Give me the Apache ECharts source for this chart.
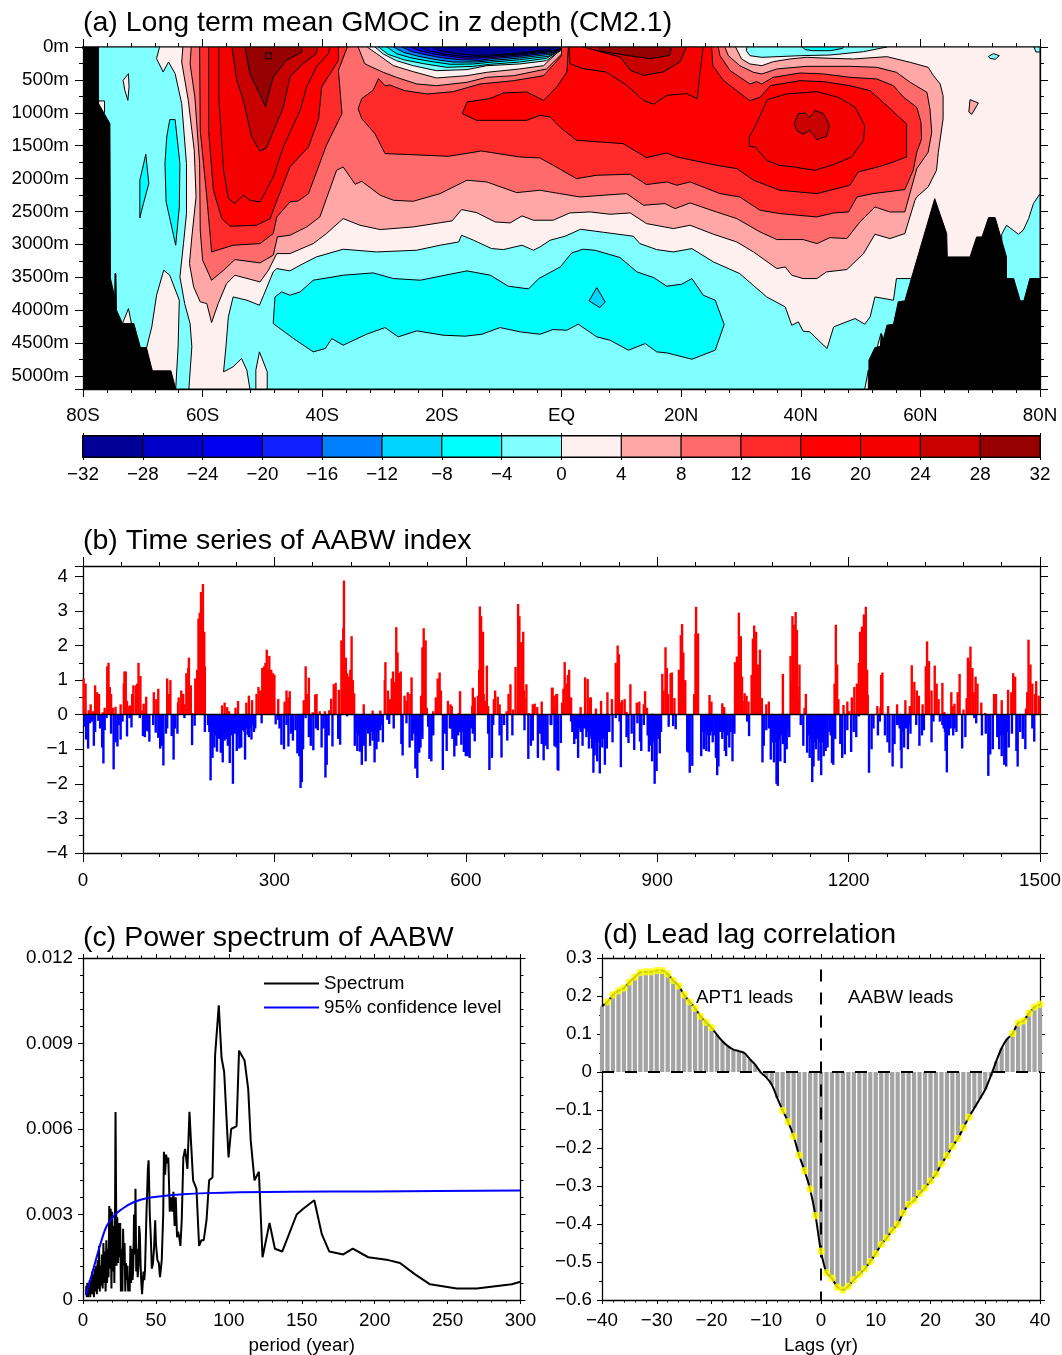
<!DOCTYPE html>
<html><head><meta charset="utf-8">
<script src="https://cdn.jsdelivr.net/npm/echarts@6/dist/echarts.min.js"></script>
<style>html,body{margin:0;padding:0;background:#fff}#c{width:1062px;height:1355px}</style></head>
<body><div id="c"></div>
<script>
// ---------- panel (a): contour outlines, [latitude, depth in m] ----------
const gt0Main=[[-67.2,0],[80,0],[80,2229],[78.9,2381],[78.1,2609],[77.2,2786],[76.4,2847],[74.4,2710],[73.6,2847],[73.6,3546],[58.3,3521],[56,3521],[55.5,3850],[52.4,3800],[51.6,4103],[50.7,4215],[49.1,4129],[45.5,4255],[44.4,4585],[41.5,4331],[40.4,4321],[39.6,4180],[38.5,4230],[37.4,3951],[34.3,3800],[29.8,3445],[25.4,3268],[21.8,3065],[18.7,3116],[15.9,3080],[13.1,2989],[12,2877],[7,2817],[3.2,2771],[0.6,2877],[-1.9,2938],[-3.6,3040],[-4.7,3090],[-6.6,3014],[-9.7,3080],[-11.7,3065],[-14.7,2938],[-16.7,2862],[-17.2,2964],[-20.3,3014],[-24.2,3090],[-30.9,3116],[-36.5,3075],[-41,3192],[-43.7,3318],[-45.4,3404],[-47.6,3369],[-48.2,3420],[-49.8,3774],[-50.5,3926],[-52.6,3850],[-54.9,3800],[-55.7,4103],[-56.1,4559],[-56.5,4939],[-54.9,4863],[-53.5,4737],[-52.6,4914],[-52.1,5200],[-62.3,5200],[-61.8,4559],[-62.1,4205],[-63,3901],[-63.8,3495],[-63.2,2989],[-62.7,2533],[-62.7,1773],[-63.5,861],[-64.6,405],[-65.7,228],[-66.6,380],[-67.7,177]];
const gt0Lobe=[[-69.4,4585],[-68.5,4255],[-67.7,3774],[-66.5,3394],[-65.5,3470],[-63.9,3850],[-64.1,4559],[-64.5,5200],[-68.3,5200]];
const gt0Sliver=[[-51.1,5200],[-51.1,4914],[-50.5,4635],[-49.2,4939],[-49.2,5200]];
const gt0Small=[[-72.4,3977],[-71.9,4205],[-73.4,4205]];
const gt0Lens=[[-72.4,405],[-72.3,608],[-72.5,811],[-73,659],[-73.3,507]];
const gt0Step=[[-77.4,820],[-76.4,820],[-76.4,1000],[-77.4,1000]];
const gt0NearRidge=[[53.4,4357],[53.5,4559],[52.8,4559]];
const gt0NearFloor=[[51.3,4914],[51.3,5200],[50.7,5200]];
const gt4=[[-63.3,0],[-63.5,228],[-62.4,811],[-61.8,1267],[-61.4,1570],[-61.1,2280],[-61.8,2888],[-62.2,3293],[-61.5,3648],[-60.4,3875],[-59.3,3901],[-58.5,4190],[-57.4,3901],[-56,3597],[-54.6,3470],[-50.4,3572],[-49,3394],[-47.6,3141],[-45.4,3141],[-41.5,2989],[-39.3,2837],[-36.5,2609],[-33.7,2710],[-30.3,2776],[-24.8,2736],[-18.3,2644],[-16.7,2472],[-14.2,2518],[-11.1,2660],[-8.6,2675],[-6.6,2568],[-4.7,2634],[-1.4,2634],[1.4,2523],[4.8,2508],[8.1,2543],[11.5,2523],[14.2,2685],[18.7,2761],[21.5,2710],[25.4,2847],[29.3,2964],[32.1,3116],[36,3369],[37.4,3344],[38.5,3470],[40.4,3521],[42.7,3521],[44.3,3420],[47.7,3384],[50.5,3141],[52.4,2847],[54.9,2913],[57.4,2837],[59.1,2330],[59.4,2280],[61.3,2128],[62.7,1874],[63,1601],[63.8,1094],[63.8,740],[63.3,562],[62.2,436],[61.3,309],[58.3,233],[54.4,147],[48.8,182],[44.9,172],[41,157],[38.2,182],[35.4,223],[33.5,284],[31.5,258],[30.1,182],[29.1,0],[0,0],[0,25],[-3,284],[-7,334],[-12.5,385],[-15.8,436],[-20.9,471],[-24.8,375],[-28.1,284],[-30.9,101],[-32.5,0]];
const gt4Patch=[[68.3,800],[69.7,851],[68.6,1023],[68.1,988]];
const gt8=[[-61.9,0],[-62.1,253],[-61.3,760],[-60.5,1773],[-60.4,2786],[-60,3242],[-58.5,3546],[-56.5,3394],[-54.6,3232],[-50.4,3283],[-48.2,3166],[-47.5,2888],[-45.4,2862],[-42.6,2736],[-40.4,2584],[-37.6,1874],[-36.5,1824],[-34.5,2087],[-33.4,2042],[-30.3,2254],[-28.1,2330],[-24.8,2346],[-20.3,2229],[-15.8,2026],[-12.5,2052],[-7.5,2214],[-3.6,2178],[-0.3,2229],[3.1,2280],[7,2254],[10.9,2229],[13.7,2406],[17.3,2381],[19,2457],[21.5,2371],[25.9,2508],[29.3,2609],[33.2,2812],[36,2928],[40.4,2928],[42.7,2989],[44.9,2898],[47.7,2913],[49.9,2660],[52.4,2432],[54.9,2508],[57.4,2508],[59.4,1849],[61.3,1601],[61.9,1297],[61.6,942],[61.1,689],[58.3,537],[56,385],[52.7,309],[48.2,294],[41,294],[36,334],[33.5,410],[32.1,385],[29.8,284],[27.9,132],[27.3,0],[0.3,0],[0.3,81],[-2.5,334],[-8,436],[-12.5,461],[-15.8,537],[-20.9,588],[-24.2,562],[-27.6,461],[-29.8,385],[-32,294],[-32.9,253],[-34,0]];
const gt12South=[[-60.5,0],[-60.4,1267],[-59.3,2280],[-58.5,3116],[-54.9,3014],[-50.4,2989],[-48.2,2837],[-47.6,2584],[-45.4,2356],[-44,2340],[-42.3,2229],[-39.3,1494],[-36.7,1013],[-37.3,355],[-35.8,0]];
const gt12North=[[0,132],[-3,436],[-8,512],[-13.6,562],[-18.1,679],[-22.5,714],[-26.2,664],[-28.7,578],[-29.5,588],[-30.6,481],[-31.5,659],[-33.4,785],[-34,937],[-33.4,1089],[-31.2,1317],[-29.5,1621],[-25.3,1636],[-18.9,1662],[-13.4,1581],[-7,1672],[-3.6,1687],[-1.4,1798],[2.5,2001],[5.9,1950],[11.5,1935],[14.2,2092],[17.6,2052],[19.3,2102],[21.5,2052],[26.5,2229],[29.8,2280],[33.2,2482],[36.5,2533],[42.7,2584],[45.5,2523],[48,2508],[49.4,2280],[52.1,2229],[57.4,2168],[58.8,1874],[59.4,1601],[60.2,1398],[60.1,1145],[59.4,917],[57.2,765],[55.5,588],[52.7,486],[48.2,461],[43.8,410],[39.9,395],[35.4,461],[33.5,562],[32.6,527],[31.5,562],[28.2,360],[26.5,132],[26.2,0],[0,0]];
const gt16South=[[-59,0],[-59,1267],[-58.2,2178],[-56.8,2609],[-55.4,2725],[-51,2710],[-48.7,2609],[-48.2,2482],[-45.4,1824],[-42.3,1520],[-40.6,1089],[-40.1,608],[-37.3,203],[-37.3,0]];
const gt16North=[[1.15,0],[0.9,380],[-0.8,608],[-3,811],[-5.8,684],[-9.7,699],[-12,785],[-15.8,836],[-16.6,1013],[-14.2,1115],[-5.8,1115],[-3.6,1039],[-1.9,1064],[-0.3,1216],[2.5,1418],[10.3,1469],[14.2,1682],[17.6,1611],[19.3,1672],[25.9,1798],[29.3,1849],[32.1,2026],[36.5,2178],[42.7,2229],[48.2,2102],[49.6,1900],[53.3,1814],[55.5,1748],[57.7,1672],[57.7,1170],[54.4,892],[51.6,664],[48.2,588],[43.8,527],[39.9,512],[34.9,588],[33.2,765],[31.5,816],[27.1,512],[25.3,284],[25.1,0]];
const gt20South=[[-57.3,0],[-57.3,760],[-56.5,1874],[-55.7,2305],[-54.6,2381],[-53.2,2254],[-52.1,2330],[-50.4,2356],[-48.2,1976],[-46.5,1520],[-43.7,963],[-42.6,608],[-41,304],[-39,101],[-38.7,0]];
const gt20Tropic=[[1.3,0],[1.4,253],[3.6,329],[7.5,380],[10.9,583],[13.7,811],[15.4,871],[17.6,735],[20.9,709],[22.7,785],[23.2,355],[23.7,0]];
const gt20North=[[34.4,800],[37.6,714],[42.7,679],[46.3,765],[49.1,917],[50.7,1196],[50.5,1419],[48.5,1672],[45.5,1788],[42.4,1874],[38.8,1824],[36.3,1798],[34.3,1722],[32.4,1520],[31.4,1510],[31.4,1368],[32.6,1165]];
const gt24South=[[-55.1,0],[-54.3,507],[-53.2,811],[-51.8,1368],[-50.4,1586],[-49.3,1530],[-46.5,912],[-45.4,456],[-43.2,253],[-41,101],[-40.8,0]];
const gt24Tropic=[[3.6,0],[9.8,152],[11.5,355],[13.7,431],[17,380],[19.8,228],[20.9,0]];
const gt24North=[[38.9,1165],[39.6,1013],[40.7,1003],[41.5,1074],[42.4,963],[43.8,1013],[44.8,1190],[44.3,1358],[42.7,1408],[41.5,1267],[40.4,1327],[39.3,1267]];
const gt28South=[[-52.9,0],[-52.1,405],[-49.5,902],[-48.2,456],[-46,203],[-43.4,76],[-43.4,0]];
const gt28Tropic=[[6.4,0],[6.4,61],[10.9,127],[14.8,177],[18.1,127],[18.4,0]];
const gt28Cell=[[-49.5,91],[-48.5,91],[-48.5,177],[-49.5,177]];
const lt0Surface=[[-31.2,0],[-29.8,106],[-27.6,208],[-24.8,284],[-20.9,360],[-15.8,344],[-12.5,284],[-7,258],[-2.5,208],[-0.2,56],[-0.1,0]];
const lt0North=[[31,0],[30.9,56],[31.5,132],[33.5,157],[39.9,132],[44.9,122],[50.5,71],[54.4,0]];
const lt0Arctic=[[71.4,142],[72.2,101],[73.2,132],[72.5,187],[71.6,172]];
const lt0Edge=[[79,0],[80,0],[80,76],[79.3,76]];
const ltm4Surface=[[-30.6,0],[-29,111],[-26.4,193],[-23.1,253],[-19.2,309],[-14.7,294],[-12,263],[-7,228],[-2.5,172],[-0.2,51],[-0.2,0]];
const ltm4North=[[40.2,0],[40.8,40],[42,56],[45,56],[47,20],[47.2,0]];
const ltm4SouthA=[[-65.5,1104],[-64.6,1104],[-63.8,1773],[-63.9,2432],[-64.5,3014],[-66.1,2356],[-66.3,1773],[-66,1368]];
const ltm4SouthB=[[-69.5,1631],[-69,2077],[-69.9,2381],[-70.5,2600],[-70.5,2026]];
const ltm4Deep=[[-48.2,4205],[-47.9,3800],[-46.8,3724],[-45.4,3774],[-43.7,3724],[-41.5,3546],[-36.5,3470],[-31.5,3435],[-28.1,3521],[-23.6,3546],[-20.3,3485],[-15.8,3404],[-11.9,3470],[-8.9,3637],[-5.5,3678],[-3.8,3521],[-0.2,3344],[1.7,3131],[3.6,3075],[5.6,3090],[9.8,3202],[12.6,3419],[15.4,3506],[17.6,3637],[20.1,3607],[21.8,3521],[23.7,3774],[25.7,3850],[27.2,4220],[25.7,4610],[21.8,4747],[17.6,4651],[15.9,4635],[14,4509],[11.2,4610],[8.1,4458],[5.9,4407],[2.8,4215],[0.9,4306],[-1.4,4296],[-3.6,4367],[-6.9,4331],[-10.3,4266],[-13.3,4367],[-16.1,4397],[-19.8,4382],[-24.2,4316],[-27.3,4407],[-29.5,4266],[-32.6,4367],[-36.5,4534],[-38.4,4433],[-39.5,4585],[-41.5,4635],[-44.8,4433]];
const ltm8Surface=[[-29.2,0],[-27.6,101],[-25.3,162],[-22,218],[-18.6,263],[-14.7,258],[-12,233],[-7,193],[-2.2,142],[-0.1,35],[-0.1,0]];
const ltm8Deep=[[5.9,3658],[7.3,3876],[6.4,3962],[4.6,3860]];
const ltm12=[[-28.1,0],[-26.4,81],[-23.9,142],[-20.9,193],[-18.1,228],[-14.2,228],[-12,208],[-7,167],[-1.9,111],[-0.1,30],[-0.05,0]];
const ltm16=[[-26.7,0],[-25,71],[-22.5,122],[-19.7,167],[-17,193],[-13.6,203],[-12,182],[-7,142],[-1.6,86],[0,25],[0,0]];
const ltm20=[[-25.3,0],[-23.6,61],[-21.1,111],[-18.6,142],[-15.8,172],[-12,162],[-7,122],[-1.5,66],[0,20],[0,0]];
const ltm24=[[-23.6,0],[-22.2,56],[-19.7,106],[-17,137],[-14.7,152],[-12,142],[-7,106],[-1.4,51],[0,15],[0,0]];
const ltm28=[[-21.4,0],[-20.3,61],[-17.5,101],[-14.7,127],[-12,122],[-7,91],[-1.9,35],[-0.8,0]];
const plotArea=[[-80,0],[80,0],[80,5200],[-80,5200]];
const floorSouth=[[-80,0],[-77.4,0],[-77.4,860],[-75.5,1165],[-75.4,3521],[-74.7,3800],[-74.65,3445],[-74.5,3445],[-74.4,4000],[-73.4,4205],[-71.5,4205],[-70.4,4570],[-69.4,4570],[-68.4,4924],[-65.3,4924],[-64.5,5200],[-80,5200]];
const floorNorth=[[51.4,5200],[51.4,4762],[52.4,4570],[53.3,4559],[53.5,4357],[53.8,4450],[54.4,4230],[55.5,4215],[56.3,3875],[57.4,3860],[62.4,2305],[64.4,2837],[64.5,3192],[68.3,3192],[69.4,2888],[70.3,2888],[71.4,2594],[72.5,2594],[74.4,3192],[74.4,3521],[75.6,3521],[76.7,3860],[77.3,3860],[78.3,3521],[80,3521],[80,5200]];

const latTicks={'-80':'80S','-60':'60S','-40':'40S','-20':'20S','0':'EQ','20':'20N','40':'40N','60':'60N','80':'80N'};
const cbLevels=[-32,-28,-24,-20,-16,-12,-8,-4,0,4,8,12,16,20,24,28,32];
const cbColors=['#000096','#0000C8','#0000F0','#1020FF','#0080FF','#00D5FF','#00FFFF','#7FFFFF','#FFF0F0','#FFA6A6','#FF6A6A','#FF2A2A','#FF0000','#F50000','#C80000','#960000'];

// ---------- panel (b): AABW index spikes, [model year, value] ----------
const aabwPositive=[[1,1.05],[4,.9],[9,.13],[12,.3],[16,.1],[19,.85],[22,.65],[25,.6],[31,.07],[34,.2],[38,1.4],[40,1.5],[42,.8],[44,.6],[47,.2],[51,.23],[59,.3],[64,.9],[65,1.25],[67,1.25],[69,.4],[72,.25],[74,.27],[77,.6],[79,.85],[83,.85],[85,.9],[87,1.5],[90,1.12],[92,.12],[95,.32],[98,.3],[99,.52],[111,.65],[115,.45],[118,.75],[132,1.05],[135,.6],[137,1],[149,.35],[150,.5],[154,.7],[157,.6],[159,.3],[162,1.2],[165,1.35],[166,1.65],[169,.85],[171,.05],[176,1.05],[179,1.3],[181,2.78],[183,2.95],[185,3.55],[188,3.78],[190,2.4],[191,1.4],[218,.27],[222,.35],[226,.22],[229,.1],[239,.2],[243,.4],[256,.35],[260,.55],[265,.42],[272,.6],[275,.8],[278,.7],[281,1.35],[284,1.4],[286,1.5],[288,1.88],[290,1.3],[292,1.7],[293,.9],[295,1.3],[298,1.2],[300,1.15],[306,.45],[316,.38],[319,.7],[322,.5],[324,.68],[346,.42],[349,1.4],[351,.6],[354,1.07],[360,.07],[364,.58],[366,.6],[371,.1],[379,.1],[386,.13],[389,.46],[393,.88],[396,.92],[401,.72],[405,2.15],[408,2.5],[409,3.88],[410,1.6],[412,1.65],[414,1.2],[415,1.05],[417,1.1],[419,1.3],[421,2.27],[423,1],[425,.62],[440,.3],[454,.12],[466,.12],[473,1],[474,1.52],[478,.7],[481,.45],[484,1.05],[486,1.25],[489,.95],[491,2.53],[493,1.8],[495,1.2],[498,1.25],[504,.55],[507,.4],[509,.65],[513,.6],[515,1.08],[530,.55],[532,1.95],[534,2.5],[537,2.15],[539,.2],[549,.1],[553,.5],[556,1.05],[559,1.22],[561,.7],[572,.4],[576,.3],[578,.25],[589,.05],[591,.68],[610,.25],[611,.78],[614,.5],[619,.55],[621,1.3],[622,3.13],[624,2.85],[627,2.4],[630,.4],[633,1.42],[635,.25],[644,.45],[646,.7],[650,.52],[653,.3],[664,.1],[667,.6],[670,.88],[674,.15],[678,1.38],[682,3.2],[684,2.85],[687,2.1],[690,2.4],[692,.5],[695,.88],[699,.05],[705,.3],[708,.32],[712,.22],[719,.38],[735,.78],[738,.2],[742,.6],[736,.78],[739,.55],[743,.6],[751,.35],[753,.75],[755,1.52],[758,.9],[760,1.15],[762,1.3],[765,.5],[780,.22],[787,1.08],[791,1.03],[794,.5],[796,.5],[804,.18],[812,.4],[822,.65],[829,.45],[835,1.5],[838,2],[840,1.75],[842,.35],[845,.42],[849,.45],[852,.08],[858,.88],[868,.35],[872,.38],[879,.3],[881,.68],[884,.2],[893,.03],[908,1.18],[910,.7],[913,1.95],[915,1.35],[917,.6],[921,1.2],[923,1.22],[927,.48],[934,1.3],[937,2.3],[939,2.62],[941,1.8],[944,1],[958,.6],[960,2.35],[961,3.12],[964,2.35],[982,.57],[985,.38],[1002,.33],[1005,.22],[1022,1.52],[1025,1.68],[1028,2.95],[1031,2.27],[1033,1.1],[1037,.62],[1040,.55],[1043,.38],[1048,1.15],[1050,2.2],[1052,2.58],[1055,2.4],[1058,1.45],[1061,1.88],[1064,.48],[1071,.3],[1075,.38],[1097,1.18],[1109,1.7],[1112,2.85],[1114,2.6],[1117,2.97],[1119,2.45],[1123,1.45],[1131,.2],[1133,.6],[1178,.9],[1180,2.6],[1182,1.45],[1184,.45],[1192,.28],[1198,.38],[1201,.1],[1205,.5],[1209,.8],[1213,.9],[1216,1.5],[1218,2.4],[1221,2.55],[1224,2.9],[1227,3.12],[1229,1.3],[1230,.58],[1245,.25],[1250,.2],[1251,1.15],[1253,1.22],[1262,.25],[1276,.3],[1289,.42],[1296,.25],[1299,1.43],[1303,.95],[1307,.7],[1310,.55],[1316,.3],[1321,1.4],[1323,2.12],[1326,1.55],[1330,.7],[1335,1.42],[1338,.9],[1341,.45],[1347,.92],[1350,.08],[1361,.65],[1363,.25],[1366,.32],[1371,.65],[1374,1.18],[1380,.15],[1385,.48],[1387,1.65],[1389,1.55],[1391,1.97],[1394,1.35],[1396,.65],[1399,1.1],[1402,.9],[1408,.35],[1414,.05],[1428,.6],[1431,.6],[1440,.42],[1450,.72],[1455,.65],[1458,1.2],[1461,1.1],[1478,.18],[1480,.65],[1482,2.17],[1485,1.45],[1488,.9],[1492,.6],[1494,.97],[1498,.55],[1499,.4]];
const aabwPositiveLow=[[184,1.5],[187,1.6],[280,.6],[283,.7],[287,.8],[291,.7],[294,.8],[297,.6],[407,.7],[411,.9],[413,.7],[416,.6],[418,.7],[420,.6],[422,.6],[424,.4],[533,.9],[535,1],[536,.6],[623,1],[625,1.1],[626,.9],[628,.6],[683,1.1],[685,1],[686,1.1],[688,1],[689,.9],[691,.7],[938,.9],[940,.8],[942,.6],[962,.6],[963,.5],[1029,.6],[1030,.7],[1032,.5],[1034,.4],[1051,.7],[1053,.8],[1054,.7],[1056,.6],[1057,.5],[1059,.4],[1060,.4],[1110,.7],[1111,.9],[1113,1],[1115,1],[1116,1.1],[1118,1],[1120,.8],[1122,.5],[1217,.7],[1219,.9],[1220,.8],[1222,1],[1223,1],[1225,.9],[1226,1]];
const aabwNegative=[[3,.35],[5,.72],[8,.98],[11,.25],[14,.2],[17,.9],[19,.5],[24,.18],[27,.4],[30,.95],[32,1.41],[34,.45],[37,.1],[44,.55],[48,1.58],[51,.8],[54,.92],[56,.3],[59,.72],[62,.2],[69,.63],[73,.1],[76,.37],[89,.1],[94,.62],[97,.65],[100,.47],[103,.5],[104,.78],[110,.3],[114,.52],[118,.67],[121,.98],[124,.9],[126,1.47],[130,.55],[132,.4],[139,.62],[142,1.3],[144,.4],[148,.55],[159,.1],[171,.88],[175,.32],[191,.5],[196,.3],[198,.5],[200,1.9],[203,1.25],[206,.95],[210,1.07],[213,.7],[216,1.1],[219,1.38],[222,.75],[225,.7],[227,.9],[230,1.4],[232,.6],[235,2],[238,.55],[241,1.05],[245,.98],[248,.95],[251,.45],[254,1.3],[258,.58],[260,.65],[264,.72],[268,.5],[270,.4],[280,.25],[302,.28],[306,.15],[308,.4],[311,.87],[315,1],[319,.3],[322,.92],[326,.55],[329,.75],[333,.45],[336,1.12],[339,1.2],[341,2.12],[343,1.95],[345,1],[349,.1],[354,.65],[357,.9],[361,1.03],[365,.4],[368,.45],[374,.95],[377,.4],[380,1.82],[382,1.45],[385,.6],[391,.92],[400,.7],[403,.87],[414,.05],[426,.9],[430,1.05],[434,1.07],[437,1.45],[440,.9],[443,1.35],[447,.55],[450,.9],[454,.75],[457,1.38],[460,1],[463,.78],[466,.45],[470,.8],[477,.15],[480,.27],[487,.4],[499,.85],[501,1.18],[507,.25],[512,.95],[516,.75],[519,.55],[521,1.56],[524,1.83],[527,1.1],[529,.95],[532,.7],[541,.35],[543,1.28],[546,1.35],[549,.6],[564,1.6],[567,.55],[570,1.05],[575,.4],[579,.7],[582,1.21],[585,.9],[588,.6],[593,.87],[597,1.08],[600,1.2],[603,1.2],[606,1.25],[611,.55],[614,.77],[635,.55],[637,1.6],[641,1.25],[643,.3],[653,.6],[656,1.24],[660,.3],[665,.75],[673,.6],[692,.45],[698,1.28],[702,.9],[705,.75],[713,1.25],[716,.55],[719,.85],[722,1.32],[725,.9],[728,1],[733,.3],[739,.9],[742,.95],[744,1.6],[734,.3],[740,.92],[745,1.62],[749,.82],[765,.2],[767,.5],[770,.85],[773,.7],[776,1.25],[780,.5],[783,.9],[786,.25],[789,.65],[793,.98],[798,.98],[800,1.68],[802,1.18],[806,1.35],[810,1.7],[814,.95],[818,1.45],[821,.98],[825,.5],[830,.8],[835,.1],[841,.2],[843,1.52],[852,.65],[855,.82],[860,.55],[864,1.02],[869,.25],[873,.78],[875,1.05],[879,.3],[885,.6],[887,1.07],[889,.9],[892,1.35],[896,2],[899,1.63],[902,.7],[904,1.12],[906,.5],[918,.35],[925,.33],[929,.42],[947,1.07],[949,1.1],[951,1.68],[955,1.48],[969,1.2],[973,1],[977,1.05],[981,1.07],[983,.6],[987,.8],[992,1.25],[994,1.75],[996,1.5],[1002,.7],[1006,1.05],[1008,1.2],[1013,.95],[1018,1.35],[1021,.55],[1041,.2],[1044,.62],[1065,1.38],[1067,.9],[1071,.45],[1075,.4],[1078,1.3],[1083,1.38],[1087,2],[1089,2.06],[1093,1.35],[1097,.85],[1100,1.4],[1103,1],[1107,.65],[1125,.3],[1129,.9],[1135,1.1],[1139,1.25],[1143,1.95],[1145,1.5],[1149,1],[1153,1.33],[1157,1.75],[1161,1.2],[1164,1.05],[1167,.95],[1174,1.4],[1176,1.45],[1179,.7],[1187,.85],[1190,1.25],[1194,1.15],[1198,.45],[1204,1.08],[1208,.5],[1212,.65],[1216,.05],[1232,1.68],[1236,1],[1239,.4],[1246,.6],[1249,.2],[1257,.6],[1261,.8],[1264,1.1],[1269,1.5],[1272,.85],[1276,.3],[1282,1.03],[1283,1.55],[1287,.95],[1293,1],[1297,.55],[1306,.3],[1311,.9],[1315,.6],[1318,.45],[1330,.8],[1333,.2],[1343,.2],[1347,.3],[1352,1.05],[1354,1.67],[1357,.6],[1364,.6],[1369,.5],[1378,.98],[1383,.65],[1397,.1],[1400,.25],[1409,.6],[1415,.55],[1419,1.77],[1422,1.15],[1426,1],[1433,.65],[1436,1],[1440,1.2],[1444,1.45],[1447,1.5],[1451,.95],[1456,.55],[1463,1.05],[1465,1.5],[1469,.5],[1473,.7],[1477,1],[1488,.4],[1491,.78]];
const aabwNegativeLow=[[201,.6],[205,.5],[208,.6],[212,.4],[215,.5],[218,.6],[221,.5],[224,.5],[226,.5],[229,.5],[231,.4],[234,.5],[236,.4],[240,.5],[243,.6],[247,.5],[250,.4],[253,.5],[256,.4],[262,.4],[266,.3],[428,.5],[432,.6],[436,.5],[439,.5],[442,.5],[445,.4],[449,.5],[452,.5],[456,.5],[459,.5],[462,.5],[465,.4],[468,.3],[522,.6],[526,.7],[528,.6],[531,.5],[577,.4],[581,.5],[584,.5],[587,.4],[591,.5],[595,.5],[599,.5],[602,.6],[605,.5],[608,.4],[771,.4],[775,.5],[778,.4],[782,.5],[785,.4],[788,.4],[791,.5],[795,.6],[797,.7],[804,.8],[808,.8],[812,.7],[816,.7],[820,.6],[823,.5],[893,.7],[895,.8],[898,.7],[901,.6],[971,.5],[975,.5],[979,.6],[985,.5],[990,.6],[998,.5],[1000,.5],[1004,.5],[1010,.6],[1015,.5],[1019,.4],[1079,.7],[1081,.8],[1085,.8],[1091,.7],[1095,.6],[1099,.6],[1102,.5],[1105,.4],[1137,.6],[1141,.7],[1147,.8],[1151,.7],[1155,.8],[1159,.8],[1163,.6],[1166,.5],[1170,.5],[1172,.6],[1277,.3],[1280,.4],[1285,.5],[1290,.4],[1295,.3],[1349,.4],[1351,.5],[1356,.5],[1360,.4],[1366,.4],[1434,.5],[1438,.6],[1442,.6],[1446,.6],[1449,.5]];

// ---------- panel (c): power spectrum, [period, power] ----------
const spectrum=[[2,.0002],[2.3,.0005],[2.6,.0001],[3,.0006],[3.4,.0001],[3.8,.0005],[4.2,.0002],[4.6,.0007],[5,.0001],[5.4,.0008],[5.8,.0002],[6.2,.001],[6.6,.0002],[7,.0009],[7.5,.0001],[8,.0011],[8.5,.0003],[9,.0012],[9.5,.0002],[10,.0014],[10.5,.0004],[11,.0019],[11.5,.0003],[12,.0012],[12.5,.0005],[13,.0016],[13.5,.0004],[14,.002],[14.5,.0006],[15,.0017],[15.5,.0003],[16,.0021],[16.5,.0006],[17,.0018],[17.5,.0008],[18,.0033],[18.5,.0011],[19,.0032],[19.5,.0004],[20,.0031],[20.5,.001],[21,.0026],[21.5,.0006],[22,.0034],[22.3,.0066],[23,.0012],[23.5,.0029],[24,.0013],[24.5,.0027],[25,.0015],[25.5,.0027],[26,.0003],[26.5,.0018],[27,.0003],[27.5,.0025],[28,.0012],[28.5,.002],[29,.0003],[29.5,.0013],[30,.0007],[30.5,.0012],[31,.0003],[31.5,.0008],[32,.0003],[32.5,.0019],[33,.0006],[33.5,.0018],[34,.0007],[34.5,.0012],[35,.003],[35.5,.0016],[36,.0039],[36.5,.001],[37,.0018],[37.5,.0008],[38,.0012],[38.5,.0026],[39,.0023],[39.5,.0012],[40,.0006],[40.5,.0002],[41.5,.001],[42,.0007],[42.5,.001],[43.5,.003],[44.5,.0046],[45,.0049],[45.8,.003],[46.5,.0022],[47.2,.0011],[48,.0013],[48.7,.0018],[49.5,.0028],[50,.002],[51,.0014],[52,.0013],[52.8,.0008],[54,.0014],[55,.003],[55.5,.0052],[56.3,.0044],[57,.0051],[57.8,.0048],[58.5,.005],[59.5,.0031],[60.3,.0036],[61.2,.0031],[62,.0038],[62.8,.0026],[63.6,.0036],[64.5,.0022],[65.2,.0024],[66,.0022],[66.8,.0019],[67.7,.0028],[68.8,.005],[70,.0053],[71.6,.0046],[73,.0066],[74,.0056],[75.5,.0042],[76.5,.0042],[77.8,.0039],[79.6,.0019],[81.2,.0021],[82.8,.0021],[84.7,.0028],[86.5,.0042],[88.8,.0043],[90.6,.0086],[93.1,.01034],[95,.0085],[96.8,.008],[99.8,.005],[101.6,.006],[105.3,.0061],[107,.00875],[110.8,.0084],[113.3,.0074],[115,.0056],[117.6,.0042],[120.6,.0045],[123.1,.0015],[127.9,.0027],[131.6,.0018],[136.6,.0017],[146.5,.003],[151,.0032],[158.6,.0035],[163.8,.0023],[168.9,.0017],[178.5,.0016],[185,.0018],[195.6,.0015],[209.4,.0014],[217.4,.0013],[227.7,.0009],[238,.00055],[256.3,.0004],[270,.0004],[294,.00055],[300,.00064]];
const confidence95=[[2,.00017],[6.9,.00105],[11.4,.00187],[16,.00257],[21.7,.00298],[27.5,.00322],[34.3,.00342],[43.5,.00357],[55,.00365],[68.6,.00371],[84.7,.00375],[107.5,.00378],[142,.0038],[199,.00381],[300,.00384]];

// ---------- panel (d): lead-lag correlation at lags -40..40 ----------
const lags=[-40,-39,-38,-37,-36,-35,-34,-33,-32,-31,-30,-29,-28,-27,-26,-25,-24,-23,-22,-21,-20,-19,-18,-17,-16,-15,-14,-13,-12,-11,-10,-9,-8,-7,-6,-5,-4,-3,-2,-1,0,1,2,3,4,5,6,7,8,9,10,11,12,13,14,15,16,17,18,19,20,21,22,23,24,25,26,27,28,29,30,31,32,33,34,35,36,37,38,39,40];
const correlation=[.173,.185,.203,.214,.221,.237,.25,.262,.264,.264,.267,.267,.258,.241,.227,.203,.185,.168,.147,.131,.117,.098,.081,.068,.059,.055,.05,.034,.019,-.001,-.014,-.033,-.068,-.101,-.131,-.169,-.219,-.26,-.308,-.378,-.472,-.528,-.543,-.566,-.574,-.564,-.547,-.533,-.518,-.499,-.478,-.454,-.437,-.417,-.401,-.371,-.349,-.338,-.32,-.305,-.287,-.269,-.242,-.22,-.196,-.175,-.147,-.119,-.095,-.071,-.046,-.011,.028,.063,.087,.101,.129,.135,.155,.171,.178];
const significantLags=[-39,-38,-37,-36,-35,-34,-33,-32,-31,-30,-29,-28,-27,-26,-25,-24,-23,-22,-21,-20,-7,-6,-5,-4,-3,-2,-1,0,1,2,3,4,5,6,7,8,9,10,11,12,13,14,15,16,17,18,19,20,21,22,23,24,25,26,27,35,36,37,38,39,40];

// ---------- styling helpers ----------
const FONT='"Liberation Sans",Arial,sans-serif', FS=18.8;
const minusFix=s=>String(s).replace('-','\u2212');
function axis(grid,pos,o){
  const top=pos==='top'||pos==='right';
  const isY=pos==='left'||pos==='right';
  return {type:'value',gridIndex:grid,position:pos,min:o.min,max:o.max,interval:o.interval,inverse:!!o.inverse,
    axisLine:{show:true,onZero:false,lineStyle:{color:'#000',width:o.lineW||1.3}},
    axisTick:{show:true,length:o.tick||7,lineStyle:{color:'#000',width:1}},
    minorTick:{show:!!o.minor,splitNumber:o.minor||2,length:o.minorLen||4,lineStyle:{color:'#000',width:1}},
    splitLine:{show:false},minorSplitLine:{show:false},
    axisLabel:{show:!top&&!o.noLabel,color:'#000',fontFamily:FONT,fontSize:FS,margin:o.margin||10,
      padding:isY?[o.padTop||5,0,0,0]:0,hideOverlap:false,formatter:o.fmt||(v=>minusFix(v))},
    name:o.name,nameLocation:'middle',nameGap:o.nameGap,nameTextStyle:{color:'#000',fontFamily:FONT,fontSize:FS}};
}
function pair(grid,kind,o){
  const a=kind==='x'?['bottom','top']:['left','right'];
  const second=Object.assign({},o,{lineW:o.lineWB||o.lineW,name:undefined});
  return [axis(grid,a[0],o),axis(grid,a[1],second)];
}
const latO={min:-80,max:80,interval:20,minor:5,tick:8,minorLen:4,margin:17,fmt:v=>latTicks[v]||'',lineWB:2.5};
const depO={min:0,max:5200,interval:500,inverse:true,minor:2,tick:8,minorLen:4,margin:14,padTop:5,fmt:v=>v%500?'':v+'m'};
const cbO={min:-32,max:32,interval:4,tick:3,margin:8,lineW:2};
const yrO={min:0,max:1500,interval:300,minor:5,tick:9,minorLen:4,margin:18};
const idxO={min:-4,max:4.3,interval:1,minor:2,tick:8,minorLen:4,margin:15,padTop:5,fmt:v=>Number.isInteger(v)?minusFix(v):''};
const perO={min:0,max:300,interval:50,minor:5,tick:4,minorLen:2.5,margin:11,name:'period (year)',nameGap:36};
const powO={min:0,max:.012,interval:.003,minor:5,tick:5,minorLen:3,margin:10,padTop:6,fmt:v=>v===0?'0':v.toFixed(3)};
const lagO={min:-40,max:40,interval:10,minor:5,tick:4,minorLen:2.5,margin:11,name:'Lags (yr)',nameGap:36};
const corO={min:-.6,max:.3,interval:.1,minor:2,tick:5,minorLen:3,margin:10,padTop:6,fmt:v=>{const r=Math.round(v*10)/10;return r===0?'0':minusFix(r.toFixed(1));}};

// painter's order: lower layers first, floor last
const layers=[
 [plotArea,'#7FFFFF'],
 [gt0Main,'#FFF0F0'],[gt0Lobe,'#FFF0F0'],[gt0Sliver,'#FFF0F0'],[gt0Small,'#FFF0F0'],[gt0Lens,'#FFF0F0'],[gt0Step,'#FFF0F0'],[gt0NearRidge,'#FFF0F0'],[gt0NearFloor,'#FFF0F0'],
 [gt4,'#FFA6A6'],[gt4Patch,'#FFA6A6'],[gt8,'#FF6A6A'],
 [gt12South,'#FF2A2A'],[gt12North,'#FF2A2A'],[gt16South,'#FF0000'],[gt16North,'#FF0000'],
 [gt20South,'#F50000'],[gt20Tropic,'#F50000'],[gt20North,'#F50000'],
 [gt24South,'#C80000'],[gt24Tropic,'#C80000'],[gt24North,'#C80000'],
 [gt28South,'#960000'],[gt28Tropic,'#960000'],[gt28Cell,'#960000'],
 [lt0Surface,'#7FFFFF'],[lt0North,'#7FFFFF'],[lt0Arctic,'#7FFFFF'],[lt0Edge,'#7FFFFF'],
 [ltm4Surface,'#00FFFF'],[ltm4North,'#00FFFF'],[ltm4SouthA,'#00FFFF'],[ltm4SouthB,'#00FFFF'],[ltm4Deep,'#00FFFF'],
 [ltm8Surface,'#00D5FF'],[ltm8Deep,'#00D5FF'],[ltm12,'#0080FF'],[ltm16,'#1020FF'],[ltm20,'#0000F0'],[ltm24,'#0000C8'],[ltm28,'#000096'],
 [floorSouth,'#000'],[floorNorth,'#000']
];

const titleStyle={color:'#000',fontFamily:FONT,fontSize:28.5,fontWeight:'normal'};
const noteStyle={color:'#000',fontFamily:FONT,fontSize:FS,fontWeight:'normal'};
const gridBase={outerBoundsMode:'none',containLabel:false};
const chart=echarts.init(document.getElementById('c'),null,{renderer:'canvas'});
chart.setOption({
 animation:false,backgroundColor:'#fff',
 title:[
  {text:'(a) Long term mean GMOC in z depth (CM2.1)',left:83,top:9,padding:0,textStyle:titleStyle},
  {text:'(b) Time series of AABW index',left:83,top:527,padding:0,textStyle:titleStyle},
  {text:'(c) Power spectrum of AABW',left:83,top:924,padding:0,textStyle:titleStyle},
  {text:'(d) Lead lag correlation',left:603,top:921,padding:0,textStyle:titleStyle},
  {text:'APT1 leads',left:696,top:988,padding:0,textStyle:noteStyle},
  {text:'AABW leads',left:848,top:988,padding:0,textStyle:noteStyle}
 ],
 grid:[
  Object.assign({left:83,top:47,width:957,height:342},gridBase),
  Object.assign({left:83,top:436,width:957,height:21},gridBase),
  Object.assign({left:83,top:566,width:957,height:287},gridBase),
  Object.assign({left:83,top:958,width:437.5,height:342},gridBase),
  Object.assign({left:602,top:958,width:438,height:342},gridBase)
 ],
 xAxis:[...pair(0,'x',latO),...pair(1,'x',cbO),...pair(2,'x',yrO),...pair(3,'x',perO),...pair(4,'x',lagO)],
 yAxis:[...pair(0,'y',depO),
   axis(1,'left',{min:0,max:1,interval:1,tick:0.01,noLabel:true,lineW:2}),axis(1,'right',{min:0,max:1,interval:1,tick:0.01,noLabel:true,lineW:2}),
   ...pair(2,'y',idxO),...pair(3,'y',powO),...pair(4,'y',corO)],
 legend:{left:264,top:974,orient:'vertical',itemWidth:55,itemHeight:2,icon:'rect',itemGap:5,selectedMode:false,padding:0,
   data:['Spectrum','95% confidence level'],textStyle:{color:'#000',fontFamily:FONT,fontSize:FS}},
 series:[
  {type:'custom',xAxisIndex:0,yAxisIndex:0,clip:true,silent:true,data:layers.map((_,i)=>[i]),encode:{x:-1,y:-1},
   renderItem:(p,api)=>{const l=layers[api.value(0)];
     return {type:'polygon',shape:{points:l[0].map(c=>api.coord(c))},style:{fill:l[1],stroke:'#000',lineWidth:1}};}},
  {type:'custom',xAxisIndex:2,yAxisIndex:2,silent:true,data:cbColors.map((_,i)=>[i]),encode:{x:-1,y:-1},
   renderItem:(p,api)=>{const i=api.value(0),a=api.coord([cbLevels[i],1]),b=api.coord([cbLevels[i+1],0]);
     return {type:'rect',shape:{x:a[0],y:a[1],width:b[0]-a[0],height:b[1]-a[1]},style:{fill:cbColors[i],stroke:'#000',lineWidth:1}};}},
  {type:'bar',name:'positive',xAxisIndex:4,yAxisIndex:4,barWidth:2.4,barGap:'-100%',silent:true,data:aabwPositive.concat(aabwPositiveLow),itemStyle:{color:'#FF0000'}},
  {type:'bar',name:'negative',xAxisIndex:4,yAxisIndex:4,barWidth:2.4,barGap:'-100%',silent:true,data:aabwNegative.concat(aabwNegativeLow).map(d=>[d[0],-d[1]]),itemStyle:{color:'#0000FF'},
   markLine:{silent:true,symbol:'none',label:{show:false},lineStyle:{color:'#000',width:1.3,type:'solid'},data:[{yAxis:0}]}},
  {type:'line',name:'Spectrum',xAxisIndex:6,yAxisIndex:6,data:spectrum,showSymbol:false,symbol:'none',lineStyle:{color:'#000',width:2},itemStyle:{color:'#000'},clip:true,z:3},
  {type:'line',name:'95% confidence level',xAxisIndex:6,yAxisIndex:6,data:confidence95,smooth:.3,showSymbol:false,symbol:'none',lineStyle:{color:'#0000FF',width:2},itemStyle:{color:'#0000FF'},z:4},
  {type:'bar',xAxisIndex:8,yAxisIndex:8,barWidth:4.2,silent:true,data:lags.map((l,i)=>[l,correlation[i]]),itemStyle:{color:'#A3A3A3'},z:2},
  {type:'line',xAxisIndex:8,yAxisIndex:8,data:[[-40,0],[40,0]],showSymbol:false,symbol:'none',lineStyle:{color:'#000',width:2,type:[12,11]},z:3},
  {type:'line',xAxisIndex:8,yAxisIndex:8,data:[[0,.27],[0,-.6]],showSymbol:false,symbol:'none',lineStyle:{color:'#000',width:2,type:[12,11]},z:3},
  {type:'line',xAxisIndex:8,yAxisIndex:8,data:lags.map((l,i)=>[l,correlation[i]]),smooth:.3,showSymbol:false,symbol:'none',lineStyle:{color:'#000',width:2},z:4},
  {type:'scatter',xAxisIndex:8,yAxisIndex:8,data:significantLags.map(l=>[l,correlation[lags.indexOf(l)]]),symbolSize:7.5,itemStyle:{color:'#FFFF00'},z:5,silent:true}
 ]
});
</script></body></html>
